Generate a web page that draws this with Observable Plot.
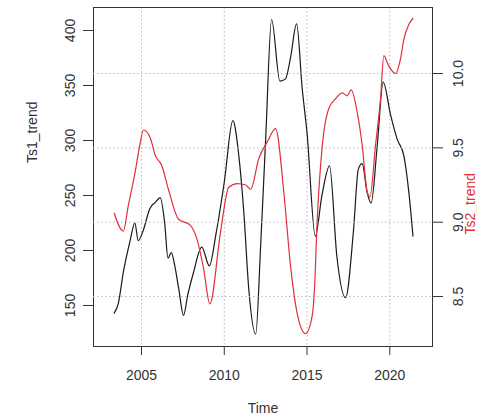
<!DOCTYPE html>
<html>
<head>
<meta charset="utf-8">
<script src="https://cdn.jsdelivr.net/npm/d3@7"></script>
<script src="https://cdn.jsdelivr.net/npm/@observablehq/plot@0.6"></script>
<style>
  body { margin: 0; background: #fff; }
  #chart { position: relative; width: 477px; height: 417px; overflow: hidden; background: #fff; }
  #chart svg { position: absolute; left: 0; top: 0; }
</style>
</head>
<body>
<div id="chart"></div>
<script>
// Ts1_trend (left axis, black)
const ts1Time = [2003.35, 2003.6, 2003.9, 2004.3, 2004.6, 2004.8, 2005.1, 2005.5, 2005.85, 2006.13,
  2006.4, 2006.6, 2006.8, 2007.0, 2007.25, 2007.54, 2007.8, 2008.14, 2008.64, 2009.1,
  2009.5, 2010.0, 2010.52, 2010.88, 2011.18, 2011.48, 2011.9, 2012.2, 2012.5, 2012.86,
  2013.36, 2013.7, 2014.0, 2014.37, 2014.71, 2015.0, 2015.5, 2015.9, 2016.36, 2016.8,
  2017.33, 2017.8, 2018.1, 2018.33, 2018.63, 2018.87, 2019.24, 2019.6, 2020.05, 2020.45,
  2020.85, 2021.15, 2021.4];
const ts1Value = [143, 152, 180, 208, 225, 209, 218, 238, 244, 248,
  225, 193, 198, 187, 165, 141, 160, 180, 203, 186,
  215, 262, 318, 286, 235, 165, 124, 205, 301, 410,
  354, 356, 375, 406, 347, 307, 213, 250, 277, 195,
  157, 217, 274, 279, 253, 243, 295, 353, 323, 301,
  286, 253, 213];

// Ts2_trend (right axis, red)
const ts2Time = [2003.35, 2003.9, 2004.2, 2004.62, 2004.9, 2005.12, 2005.52, 2005.83, 2006.23, 2006.63,
  2007.24, 2007.94, 2008.34, 2008.75, 2009.13, 2009.77, 2010.27, 2010.78, 2011.3, 2011.59,
  2012.09, 2012.6, 2013.1, 2013.6, 2014.0, 2014.4, 2014.91, 2015.31, 2015.45, 2015.6,
  2015.9, 2016.3, 2016.72, 2017.13, 2017.43, 2017.67, 2018.03, 2018.33, 2018.64, 2018.8,
  2019.14, 2019.44, 2019.64, 2019.94, 2020.35, 2020.65, 2020.85, 2021.15, 2021.4];
const ts2Value = [9.06, 8.94, 9.11, 9.34, 9.52, 9.62, 9.57, 9.45, 9.38, 9.22,
  9.02, 8.98, 8.89, 8.69, 8.45, 8.93, 9.235, 9.26, 9.25, 9.22,
  9.43, 9.54, 9.63, 9.2, 8.71, 8.39, 8.25, 8.37, 8.55, 8.98,
  9.49, 9.76, 9.83, 9.87, 9.85, 9.89, 9.74, 9.52, 9.2, 9.17,
  9.52, 9.83, 10.12, 10.05, 10.0, 10.1, 10.23, 10.33, 10.37];

// Tick values
const timeTicks = [2005, 2010, 2015, 2020];
const ts1Ticks = [150, 200, 250, 300, 350, 400];
const ts2Ticks = [8.5, 9.0, 9.5, 10.0];

const ts1 = ts1Time.map((t, i) => ({t, v: ts1Value[i]}));
const ts2 = ts2Time.map((t, i) => ({t, v: ts2Value[i]}));

const W = 477, H = 417;
const margins = {marginLeft: 93, marginRight: 45, marginTop: 7, marginBottom: 71};
const xDomain = [2002.1, 2022.58];
const font = {fontFamily: "'Liberation Sans', Arial, sans-serif", fontSize: "14px", color: "#333", overflow: "visible"};
const gridStyle = {stroke: "#b8b8b8", strokeWidth: 1, strokeDasharray: "1.5,2.5", strokeOpacity: 1};

// Base panel: time axis, left axis, box, vertical grid, Ts1 line
const base = Plot.plot({
  width: W, height: H, ...margins,
  style: {...font, background: "transparent"},
  x: {domain: xDomain},
  y: {domain: [112.7, 420.9]},
  marks: [
    Plot.ruleX(timeTicks, gridStyle),
    Plot.line(ts1, {x: "t", y: "v", stroke: "#1a1a1a", strokeWidth: 1.2, curve: "monotone-x"}),
    Plot.frame({stroke: "#333", strokeWidth: 1}),
    Plot.axisX({ticks: timeTicks, tickFormat: "d", tickSize: 9, tickPadding: 15,
      label: "Time", labelAnchor: "center", labelArrow: "none", labelOffset: 66}),
    Plot.axisY({ticks: ts1Ticks, tickSize: 10, tickPadding: 9, tickRotate: -90, label: null}),
    Plot.text(["Ts1_trend"], {frameAnchor: "left", dx: -61, dy: -14, rotate: -90, text: d => d})
  ]
});

// Overlay panel: right axis, horizontal grid, Ts2 line
const overlay = Plot.plot({
  width: W, height: H, ...margins,
  style: {...font, background: "transparent"},
  x: {domain: xDomain, axis: null},
  y: {domain: [8.164, 10.444]},
  marks: [
    Plot.ruleY(ts2Ticks, gridStyle),
    Plot.line(ts2, {x: "t", y: "v", stroke: "#e0303a", strokeWidth: 1.2, curve: "monotone-x"}),
    Plot.axisY({anchor: "right", ticks: ts2Ticks, tickFormat: d3.format(".1f"), tickSize: 10,
      tickPadding: 20, tickRotate: -90, label: null}),
    Plot.text(["Ts2_trend"], {frameAnchor: "right", dx: 38, dy: -4, rotate: -90, text: d => d, fill: "#e0303a"})
  ]
});

const chart = document.getElementById("chart");
chart.appendChild(base);
chart.appendChild(overlay);
</script>
</body>
</html>
